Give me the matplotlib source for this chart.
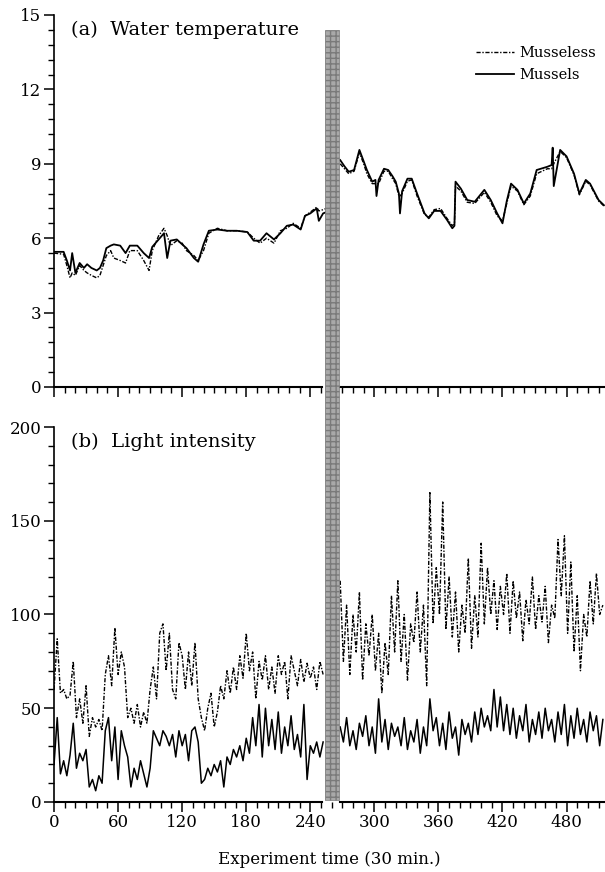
import numpy as np
import matplotlib
matplotlib.use('Agg')
import matplotlib.pyplot as plt
from matplotlib.patches import Rectangle
from matplotlib.transforms import blended_transform_factory
from matplotlib.ticker import MultipleLocator

plt.rcParams['font.family'] = ['DejaVu Serif']

# ---- water temperature ----
temp_t_left = [0, 9, 12, 15, 17, 20, 24, 28, 31, 35, 40, 43, 46, 49, 53, 56, 62, 67, 71, 78,
               84, 89, 92, 98, 103, 106, 109, 115, 120, 124, 131, 135, 140, 145, 153, 162, 171, 181, 187, 193,
               199, 206, 212, 218, 224, 231, 235, 240, 246, 248, 252, 255]
temp_mussels_left = [5.45, 5.45, 5.1, 4.7, 5.4, 4.6, 5.0, 4.8, 4.95, 4.8, 4.7, 4.8, 5.1, 5.6, 5.7, 5.75, 5.7, 5.4, 5.7, 5.7,
                     5.4, 5.2, 5.65, 5.95, 6.2, 5.2, 5.9, 5.95, 5.75, 5.6, 5.2, 5.05, 5.75, 6.3, 6.35, 6.3, 6.3, 6.25, 5.9, 5.9,
                     6.2, 5.95, 6.2, 6.5, 6.55, 6.35, 6.9, 7.0, 7.2, 6.7, 7.0, 7.05]
temp_musseless_left = [5.4, 5.35, 4.9, 4.4, 4.6, 4.5, 4.9, 4.7, 4.6, 4.5, 4.4, 4.5, 4.9, 5.3, 5.5, 5.2, 5.1, 5.0, 5.5, 5.5,
                       5.1, 4.7, 5.5, 6.1, 6.4, 6.1, 5.7, 5.9, 5.8, 5.5, 5.3, 5.1, 5.5, 6.2, 6.4, 6.3, 6.3, 6.25, 6.0, 5.8,
                       6.0, 5.8, 6.3, 6.4, 6.6, 6.4, 6.9, 7.05, 7.25, 7.1, 7.15, 7.2]

temp_t_right = [268, 272, 276, 281, 286, 290, 293, 298, 301, 302, 304, 309, 313, 317, 320, 323, 324, 326, 331, 335,
                340, 347, 351, 356, 362, 368, 373, 375, 376, 381, 387, 394, 403, 409, 415, 420, 424, 428, 434, 440,
                446, 452, 462, 466, 467, 468, 474, 480, 487, 492, 498, 502, 510, 515]
temp_mussels_right = [9.15, 8.9, 8.68, 8.75, 9.56, 9.1, 8.75, 8.28, 8.35, 7.7, 8.35, 8.8, 8.75, 8.5, 8.28, 7.8, 7.0, 7.9, 8.4, 8.4,
                      7.8, 7.0, 6.8, 7.1, 7.1, 6.74, 6.4, 6.5, 8.28, 8.0, 7.54, 7.47, 7.95, 7.54, 7.0, 6.6, 7.5, 8.2, 7.95, 7.4,
                      7.8, 8.75, 8.88, 8.95, 9.65, 8.1, 9.56, 9.3, 8.6, 7.8, 8.35, 8.2, 7.54, 7.33]
temp_musseless_right = [9.0, 8.8, 8.6, 8.7, 9.45, 9.0, 8.6, 8.2, 8.2, 8.2, 8.2, 8.7, 8.7, 8.4, 8.2, 7.7, 7.7, 7.8, 8.3, 8.35,
                        7.7, 6.95, 6.85, 7.15, 7.2, 6.8, 6.5, 6.6, 8.1, 7.9, 7.45, 7.4, 7.85, 7.45, 6.9, 6.7, 7.4, 8.1, 7.9, 7.35,
                        7.7, 8.6, 8.8, 8.8, 8.9, 9.0, 9.5, 9.25, 8.55, 7.75, 8.3, 8.15, 7.5, 7.3]

# ---- light intensity, sampled every 3 time steps ----
light_step = 3
light_start_left = 0
light_mussels_left = [20, 45, 15, 22, 14, 25, 42, 18, 26, 22, 28, 8, 12, 6, 14, 10, 38, 45, 22, 40,
                      12, 38, 30, 24, 8, 18, 12, 22, 15, 8, 18, 38, 34, 30, 38, 35, 30, 36, 24, 38,
                      30, 36, 22, 38, 40, 32, 10, 12, 18, 14, 20, 16, 22, 8, 24, 20, 28, 24, 30, 22,
                      34, 26, 45, 30, 52, 24, 50, 30, 44, 28, 48, 26, 40, 30, 46, 28, 36, 24, 52, 12,
                      30, 26, 32, 24, 32]
light_musseless_left = [60, 87, 58, 60, 55, 57, 75, 45, 55, 42, 62, 35, 45, 40, 44, 38, 68, 78, 62, 93,
                        68, 80, 72, 45, 50, 42, 52, 40, 48, 42, 60, 72, 55, 90, 95, 70, 90, 60, 55, 85,
                        78, 60, 80, 62, 85, 55, 45, 38, 50, 58, 40, 48, 62, 55, 70, 58, 72, 60, 78, 66,
                        90, 70, 80, 55, 75, 65, 78, 60, 72, 58, 78, 68, 75, 55, 78, 70, 62, 76, 64, 74,
                        66, 72, 60, 75, 68]
light_start_right = 268
light_mussels_right = [40, 32, 45, 30, 38, 28, 42, 35, 46, 30, 40, 26, 55, 32, 44, 28, 42, 35, 40, 30,
                       45, 28, 38, 32, 44, 26, 40, 30, 55, 38, 45, 30, 42, 28, 48, 34, 40, 25, 44, 36,
                       42, 32, 48, 36, 50, 40, 46, 38, 60, 40, 56, 38, 52, 36, 50, 34, 46, 38, 52, 32,
                       44, 36, 48, 34, 50, 38, 44, 32, 48, 36, 52, 30, 46, 34, 50, 36, 44, 32, 48, 38,
                       46, 30, 44]
light_musseless_right = [118, 75, 105, 68, 100, 80, 112, 65, 95, 78, 100, 70, 90, 58, 85, 68, 110, 80, 118, 75,
                         100, 65, 95, 85, 112, 80, 105, 62, 165, 95, 125, 100, 160, 92, 120, 88, 112, 80, 105, 90,
                         130, 82, 110, 88, 138, 95, 125, 100, 118, 92, 115, 100, 122, 90, 118, 98, 112, 86, 108, 95,
                         120, 92, 110, 96, 115, 85, 105, 98, 140, 110, 142, 90, 128, 80, 110, 70, 100, 88, 118, 95,
                         122, 100, 105]

gap_start, gap_end = 254, 266.5
x_max = 516
temp_ticks = np.arange(0, 16, 3)
light_ticks = np.arange(0, 201, 50)
time_ticks = np.arange(0, 481, 60)

dash = (0, (3, 1.2, 1, 1.2))

fig = plt.figure(figsize=(6.05, 8.72), dpi=100)
ax1 = fig.add_axes([0.0893, 0.5562, 0.9107, 0.4266])
ax2 = fig.add_axes([0.0893, 0.0803, 0.9107, 0.4300])

ax1.plot(temp_t_left, temp_musseless_left, color='black', lw=1.0, ls=dash, label='Musseless')
ax1.plot(temp_t_left, temp_mussels_left, color='black', lw=1.3, label='Mussels')
ax1.plot(temp_t_right, temp_musseless_right, color='black', lw=1.0, ls=dash)
ax1.plot(temp_t_right, temp_mussels_right, color='black', lw=1.3)

tl = light_start_left + light_step * np.arange(len(light_mussels_left))
tr = light_start_right + light_step * np.arange(len(light_mussels_right))
ax2.plot(tl, light_musseless_left, color='black', lw=1.0, ls=dash)
ax2.plot(tl, light_mussels_left, color='black', lw=1.1)
ax2.plot(tr, light_musseless_right, color='black', lw=1.0, ls=dash)
ax2.plot(tr, light_mussels_right, color='black', lw=1.1)

for ax, ticks, minor in [(ax1, temp_ticks, 0.6), (ax2, light_ticks, 10)]:
    ax.set_xlim(0, x_max)
    ax.set_ylim(ticks[0], ticks[-1])
    ax.set_yticks(ticks)
    ax.yaxis.set_minor_locator(MultipleLocator(minor))
    ax.set_xticks(time_ticks)
    ax.xaxis.set_minor_locator(MultipleLocator(10))
    ax.tick_params(which='major', direction='out', length=7, width=1.1, labelsize=12, pad=2)
    ax.tick_params(which='minor', direction='out', length=4, width=1.0)
    for s in ['top', 'right', 'bottom']:
        ax.spines[s].set_visible(False)
    ax.spines['left'].set_linewidth(1.2)
    # broken bottom spine around the gap
    tr_ax = blended_transform_factory(ax.transData, ax.transAxes)
    ax.plot([0, gap_start - 3], [0, 0], color='black', lw=1.5, transform=tr_ax, clip_on=False)
    ax.plot([gap_end + 1.5, x_max], [0, 0], color='black', lw=1.5, transform=tr_ax, clip_on=False)

ax1.tick_params(axis='x', labelbottom=False)
ax2.set_xlabel('Experiment time (30 min.)', fontsize=12, labelpad=14)

ax1.text(0.03, 0.985, '(a)  Water temperature', transform=ax1.transAxes, fontsize=14, va='top')
ax2.text(0.03, 0.985, '(b)  Light intensity', transform=ax2.transAxes, fontsize=14, va='top')

ax1.legend(loc='upper right', bbox_to_anchor=(1.0, 0.94), frameon=False, fontsize=10.5,
           handlelength=2.6, handletextpad=0.4, labelspacing=0.55, borderaxespad=0.2)

bar = Rectangle((gap_start, 0.0826), gap_end - gap_start, 0.966 - 0.0826,
                transform=blended_transform_factory(ax2.transData, fig.transFigure),
                facecolor='#a9a9a9', edgecolor='#7a7a7a', hatch='+++', lw=0.5, zorder=10)
fig.add_artist(bar)

fig.savefig('out.png', dpi=100)
